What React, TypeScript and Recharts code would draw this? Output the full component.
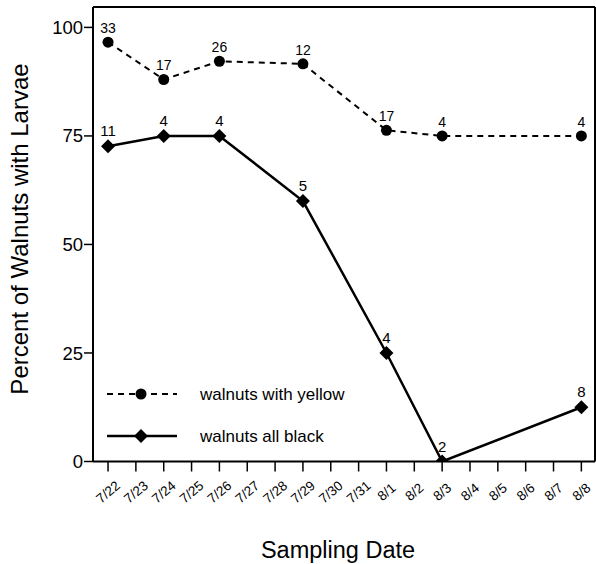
import { LineChart, Line, XAxis, YAxis, ReferenceLine, LabelList, Legend, Label } from "recharts";

const dates = [
  "7/22", "7/23", "7/24", "7/25", "7/26", "7/27", "7/28", "7/29", "7/30",
  "7/31", "8/1", "8/2", "8/3", "8/4", "8/5", "8/6", "8/7", "8/8",
];
const sampleDays = ["7/22", "7/24", "7/26", "7/29", "8/1", "8/3", "8/8"];
const yellowPct = [96.6, 88, 92.2, 91.6, 76.3, 75, 75];
const yellowN = [33, 17, 26, 12, 17, 4, 4];
const blackPct = [72.6, 75, 75, 60, 25, 0, 12.5];
const blackN = [11, 4, 4, 5, 4, 2, 8];
const yTicks = [0, 25, 50, 75, 100];

const data = sampleDays.map((d, i) => ({
  idx: dates.indexOf(d),
  yellow: yellowPct[i],
  yellowN: yellowN[i],
  black: blackPct[i],
  blackN: blackN[i],
}));

const FONT = "'Liberation Sans', Arial, Helvetica, sans-serif";
const X_MIN = -0.54;
const X_MAX = 17.49;
const Y_MAX = 104.7;

function Diamond(props: any) {
  const { cx, cy } = props;
  if (cx == null || cy == null) return null;
  const s = 7;
  return (
    <polygon
      key={`d-${cx}`}
      points={`${cx},${cy - s} ${cx + s},${cy} ${cx},${cy + s} ${cx - s},${cy}`}
      fill="#000"
    />
  );
}

// rotated date labels sitting just right of each tick
function DateTick(props: any) {
  const { x, y, payload } = props;
  const ax = x + 3;
  const ay = y + 22;
  return (
    <text
      x={ax}
      y={ay}
      transform={`rotate(-40 ${ax} ${ay})`}
      textAnchor="middle"
      fontSize={13.5}
      fontFamily={FONT}
      fill="#000"
    >
      {dates[payload.value]}
    </text>
  );
}

function LegendBox() {
  return (
    <svg width={260} height={72} style={{ display: "block" }}>
      <line x1={0} y1={14} x2={70} y2={14} stroke="#000" strokeWidth={2} strokeDasharray="6 5" />
      <circle cx={34} cy={14} r={5.5} fill="#000" />
      <text x={93} y={20} fontSize={17} fontFamily={FONT} fill="#000">walnuts with yellow</text>
      <line x1={0} y1={56} x2={70} y2={56} stroke="#000" strokeWidth={2.5} />
      <polygon points="34,49 41,56 34,63 27,56" fill="#000" />
      <text x={93} y={62} fontSize={17} fontFamily={FONT} fill="#000">walnuts all black</text>
    </svg>
  );
}

export default function App() {
  return (
    <div style={{ width: 596, height: 564, background: "#fff" }}>
      <style>{"body{margin:0}"}</style>
      <LineChart
        width={596}
        height={564}
        data={data}
        margin={{ top: 7, right: 1, left: 0, bottom: 42.5 }}
      >
        <XAxis
          type="number"
          dataKey="idx"
          domain={[X_MIN, X_MAX]}
          allowDataOverflow
          ticks={dates.map((_, i) => i)}
          interval={0}
          height={60}
          tickSize={10}
          tick={<DateTick />}
          axisLine={{ stroke: "#000", strokeWidth: 2 }}
          tickLine={{ stroke: "#000", strokeWidth: 1.5 }}
        >
          <Label
            content={(p: any) => {
              const vb = p.viewBox;
              return (
                <text
                  x={338}
                  y={vb.y + 96}
                  textAnchor="middle"
                  fontSize={23.5}
                  fontFamily={FONT}
                  fill="#000"
                >
                  Sampling Date
                </text>
              );
            }}
          />
        </XAxis>
        <YAxis
          domain={[0, Y_MAX]}
          allowDataOverflow
          ticks={yTicks}
          width={93}
          tickSize={9}
          tickMargin={1}
          tick={{ fill: "#000", fontSize: 18.5, fontFamily: FONT }}
          axisLine={{ stroke: "#000", strokeWidth: 2 }}
          tickLine={{ stroke: "#000", strokeWidth: 1.5 }}
        >
          <Label
            content={() => {
              const cx = 28;
              const cy = 229;
              return (
                <text
                  x={cx}
                  y={cy}
                  transform={`rotate(-90 ${cx} ${cy})`}
                  textAnchor="middle"
                  fontSize={24}
                  fontFamily={FONT}
                  fill="#000"
                >
                  Percent of Walnuts with Larvae
                </text>
              );
            }}
          />
        </YAxis>
        <ReferenceLine y={Y_MAX} stroke="#000" strokeWidth={2} />
        <ReferenceLine x={X_MAX} stroke="#000" strokeWidth={2} />
        <Legend
          verticalAlign="middle"
          align="center"
          content={() => <LegendBox />}
          wrapperStyle={{ position: "absolute", left: 107, top: 380, width: 260, height: 72, margin: 0 }}
        />
        <Line
          dataKey="yellow"
          stroke="#000"
          strokeWidth={2}
          strokeDasharray="6 5"
          dot={{ r: 5.5, fill: "#000", stroke: "#000", strokeWidth: 0 }}
          activeDot={false}
          isAnimationActive={false}
          legendType="none"
        >
          <LabelList dataKey="yellowN" position="top" offset={9} fontSize={14} fontFamily={FONT} fill="#000" />
        </Line>
        <Line
          dataKey="black"
          stroke="#000"
          strokeWidth={2.5}
          dot={<Diamond />}
          activeDot={false}
          isAnimationActive={false}
          legendType="none"
        >
          <LabelList dataKey="blackN" position="top" offset={10} fontSize={15} fontFamily={FONT} fill="#000" />
        </Line>
      </LineChart>
    </div>
  );
}
